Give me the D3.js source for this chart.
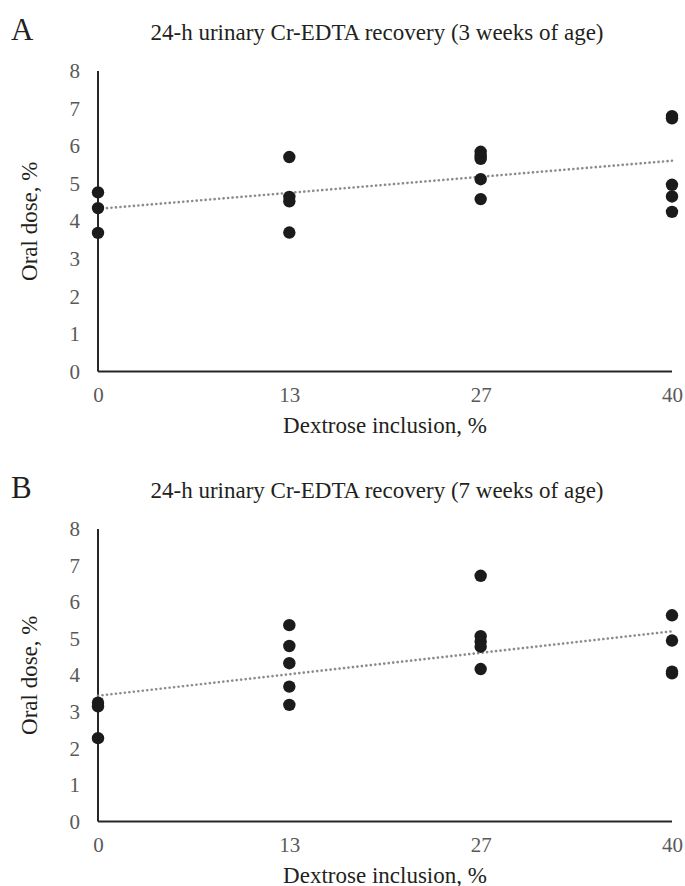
<!DOCTYPE html>
<html>
<head>
<meta charset="utf-8">
<script src="https://cdn.jsdelivr.net/npm/d3@7"></script>
<style>
    body { margin: 0; background: #fff; }
    text { font-family: "Liberation Serif", "Times New Roman", serif; }
</style>
</head>
<body>
<div id="chart"></div>
<script>
// dextrose inclusion levels (evenly spaced categories)
var dextroseLevels = ["0", "13", "27", "40"];
var doseTicks = [0, 1, 2, 3, 4, 5, 6, 7, 8];

// panel A - 3 weeks of age
var week3Level = ["0", "0", "0", "13", "13", "13", "13", "27", "27", "27", "27", "27", "40", "40", "40", "40", "40"];
var week3Dose = [4.77, 4.35, 3.69, 5.71, 4.65, 4.53, 3.70, 5.85, 5.74, 5.66, 5.12, 4.59, 6.80, 6.74, 4.97, 4.66, 4.25];
var week3Trend = [4.33, 5.61];

// panel B - 7 weeks of age
var week7Level = ["0", "0", "0", "13", "13", "13", "13", "13", "27", "27", "27", "27", "27", "40", "40", "40", "40"];
var week7Dose = [3.25, 3.15, 2.28, 5.37, 4.80, 4.33, 3.69, 3.19, 6.72, 5.07, 4.92, 4.78, 4.17, 5.64, 4.95, 4.10, 4.05];
var week7Trend = [3.44, 5.20];

var svg = d3.select("#chart").append("svg")
    .attr("width", 685)
    .attr("height", 886);

/*
 * ScatterPanel - draws one recovery panel
 * @param _letter  -- panel letter
 * @param _title   -- title text
 * @param _levels  -- x category per point
 * @param _dose    -- y value per point
 * @param _trend   -- trend line value at first and last level
 * @param _top     -- y pixel of the dose 8 line
 * @param _bottom  -- y pixel of the x axis
 */
ScatterPanel = function (_letter, _title, _levels, _dose, _trend, _top, _bottom) {
    this.letter = _letter;
    this.title = _title;
    this.data = _levels.map(function (d, i) { return { level: d, dose: _dose[i] }; });
    this.trend = _trend;
    this.top = _top;
    this.bottom = _bottom;

    this.initVis();
}

ScatterPanel.prototype.initVis = function () {
    var vis = this;

    vis.left = 98;
    vis.right = 672;

    vis.x = d3.scalePoint().domain(dextroseLevels).range([vis.left, vis.right]);
    vis.y = d3.scaleLinear().domain([0, 8]).range([vis.bottom, vis.top]);

    vis.g = svg.append("g");

    // panel letter and title
    vis.g.append("text")
        .attr("x", 11)
        .attr("y", vis.top - 31)
        .attr("font-size", 31)
        .attr("fill", "#231f20")
        .text(vis.letter);

    vis.g.append("text")
        .attr("x", 377)
        .attr("y", vis.top - 31)
        .attr("text-anchor", "middle")
        .attr("font-size", 23)
        .attr("fill", "#231f20")
        .text(vis.title);

    // y axis labels only, no ticks
    vis.yAxis = d3.axisLeft(vis.y).tickValues(doseTicks).tickSize(0).tickPadding(18);
    vis.g.append("g")
        .attr("class", "y-axis axis")
        .attr("transform", "translate(" + vis.left + ",0)")
        .call(vis.yAxis)
        .call(function (g) { g.select(".domain").remove(); });

    vis.xAxis = d3.axisBottom(vis.x).tickSize(0).tickPadding(16);
    vis.g.append("g")
        .attr("class", "x-axis axis")
        .attr("transform", "translate(0," + vis.bottom + ")")
        .call(vis.xAxis)
        .call(function (g) { g.select(".domain").remove(); });

    vis.g.selectAll(".axis text")
        .attr("font-family", "Liberation Serif, serif")
        .attr("font-size", 21)
        .attr("fill", "#595959");

    // axis lines
    vis.g.append("line")
        .attr("x1", vis.left).attr("x2", vis.left)
        .attr("y1", vis.y(8)).attr("y2", vis.bottom)
        .attr("stroke", "#262626").attr("stroke-width", 2);
    vis.g.append("line")
        .attr("x1", vis.left).attr("x2", vis.right)
        .attr("y1", vis.bottom).attr("y2", vis.bottom)
        .attr("stroke", "#262626").attr("stroke-width", 2);

    // axis titles
    vis.g.append("text")
        .attr("transform", "translate(37," + (vis.top + vis.bottom) / 2 + ") rotate(-90)")
        .attr("text-anchor", "middle")
        .attr("font-size", 23)
        .attr("fill", "#231f20")
        .text("Oral dose, %");

    vis.g.append("text")
        .attr("x", (vis.left + vis.right) / 2)
        .attr("y", vis.bottom + 61)
        .attr("text-anchor", "middle")
        .attr("font-size", 23)
        .attr("fill", "#231f20")
        .text("Dextrose inclusion, %");

    vis.updateVis();
}

ScatterPanel.prototype.updateVis = function () {
    var vis = this;

    // dotted trend line
    var trendPts = [
        { level: dextroseLevels[0], dose: vis.trend[0] },
        { level: dextroseLevels[dextroseLevels.length - 1], dose: vis.trend[1] }
    ];
    vis.g.append("path")
        .datum(trendPts)
        .attr("fill", "none")
        .attr("stroke", "#8c8c8c")
        .attr("stroke-width", 2.6)
        .attr("stroke-dasharray", "0.1,4.4")
        .attr("stroke-linecap", "round")
        .attr("d", d3.line()
            .x(function (d) { return vis.x(d.level); })
            .y(function (d) { return vis.y(d.dose); }));

    vis.g.selectAll(".dot")
        .data(vis.data)
        .enter()
        .append("circle")
        .attr("class", "dot")
        .attr("cx", function (d) { return vis.x(d.level); })
        .attr("cy", function (d) { return vis.y(d.dose); })
        .attr("r", 6.2)
        .attr("fill", "#1c1a1b");
}

new ScatterPanel("A", "24-h urinary Cr-EDTA recovery (3 weeks of age)", week3Level, week3Dose, week3Trend, 71, 371.5);
new ScatterPanel("B", "24-h urinary Cr-EDTA recovery (7 weeks of age)", week7Level, week7Dose, week7Trend, 529, 821.5);
</script>
</body>
</html>
